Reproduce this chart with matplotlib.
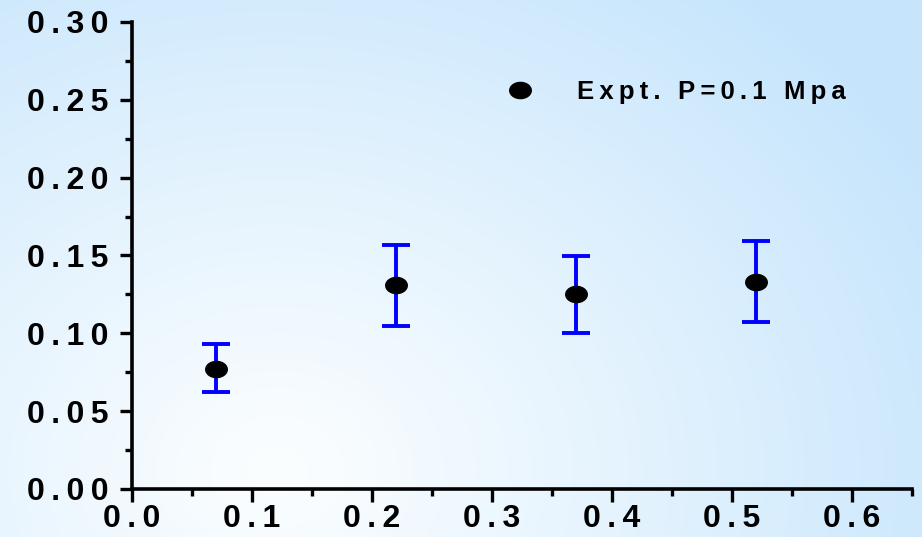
import numpy as np
import matplotlib
matplotlib.use("Agg")
import matplotlib.pyplot as plt
from matplotlib.path import Path
from matplotlib.ticker import MultipleLocator, FuncFormatter

# data
x = [0.07, 0.22, 0.37, 0.52]
y = [0.077, 0.131, 0.125, 0.133]
y_hi = [0.093, 0.157, 0.150, 0.159]
y_lo = [0.062, 0.105, 0.100, 0.107]
label = "Expt. P=0.1 Mpa"

plt.rcParams["font.family"] = ["Liberation Sans", "DejaVu Sans"]
plt.rcParams["font.weight"] = "bold"

TS = "\u2009"  # thin space -> loose letter spacing


def spaced(s):
    return TS.join(s)


fig = plt.figure(figsize=(9.22, 5.37), dpi=100)

# radial background gradient, white-ish near lower left, light blue at edges
bg = fig.add_axes([0, 0, 1, 1], zorder=-10)
gx, gy = np.meshgrid(np.linspace(0, 1, 400), np.linspace(0, 1, 240))
r = np.sqrt(((gx - 0.3) * 1.0) ** 2 + ((gy - 0.12) * 0.7) ** 2)
t = np.clip(r / 0.8, 0, 1) ** 1.1
c0 = np.array([0.985, 0.995, 1.0])
c1 = np.array([0.78, 0.90, 0.99])
img = c0[None, None, :] * (1 - t[..., None]) + c1[None, None, :] * t[..., None]
bg.imshow(img, origin="lower", extent=[0, 1, 0, 1], aspect="auto")
bg.axis("off")

ax = fig.add_axes([132 / 922, 48 / 537, 780 / 922, 467 / 537])
ax.patch.set_alpha(0)

# ellipse marker (wider than tall)
th = np.linspace(0, 2 * np.pi, 60)
ell = Path(np.column_stack([np.cos(th), 0.75 * np.sin(th)]), closed=True)

yerr = [np.array(y) - np.array(y_lo), np.array(y_hi) - np.array(y)]
ax.errorbar(x, y, yerr=yerr, fmt="none", ecolor="#0000ff", elinewidth=2.8,
            capsize=10, capthick=2.8, zorder=2)
ax.plot(x, y, linestyle="none", marker=ell, markersize=15.5, color="black",
        label=spaced(label), zorder=3)

ax.set_xlim(0, 0.65)
ax.set_ylim(0, 0.30)
ax.xaxis.set_major_locator(MultipleLocator(0.1))
ax.xaxis.set_minor_locator(MultipleLocator(0.05))
ax.yaxis.set_major_locator(MultipleLocator(0.05))
ax.yaxis.set_minor_locator(MultipleLocator(0.025))
ax.xaxis.set_major_formatter(FuncFormatter(lambda v, p: spaced(f"{v:.1f}")))
ax.yaxis.set_major_formatter(FuncFormatter(lambda v, p: spaced(f"{v:.2f}")))

for s in ["top", "right"]:
    ax.spines[s].set_visible(False)
for s in ["left", "bottom"]:
    ax.spines[s].set_linewidth(2.6)
ax.tick_params(which="major", direction="out", length=9, width=2.4,
               labelsize=23)
ax.tick_params(which="minor", direction="out", length=5, width=2.4)
ax.tick_params(axis="x", which="major", pad=2)
ax.tick_params(axis="y", which="major", pad=8)
for lab in ax.get_xticklabels() + ax.get_yticklabels():
    lab.set_fontweight("bold")

leg = ax.legend(loc="upper left", bbox_to_anchor=(0.435, 0.925), frameon=False,
                prop={"size": 18.5, "weight": "bold"}, handletextpad=1.2,
                markerscale=1.0, numpoints=1)

fig.savefig("out.png", dpi=100)
